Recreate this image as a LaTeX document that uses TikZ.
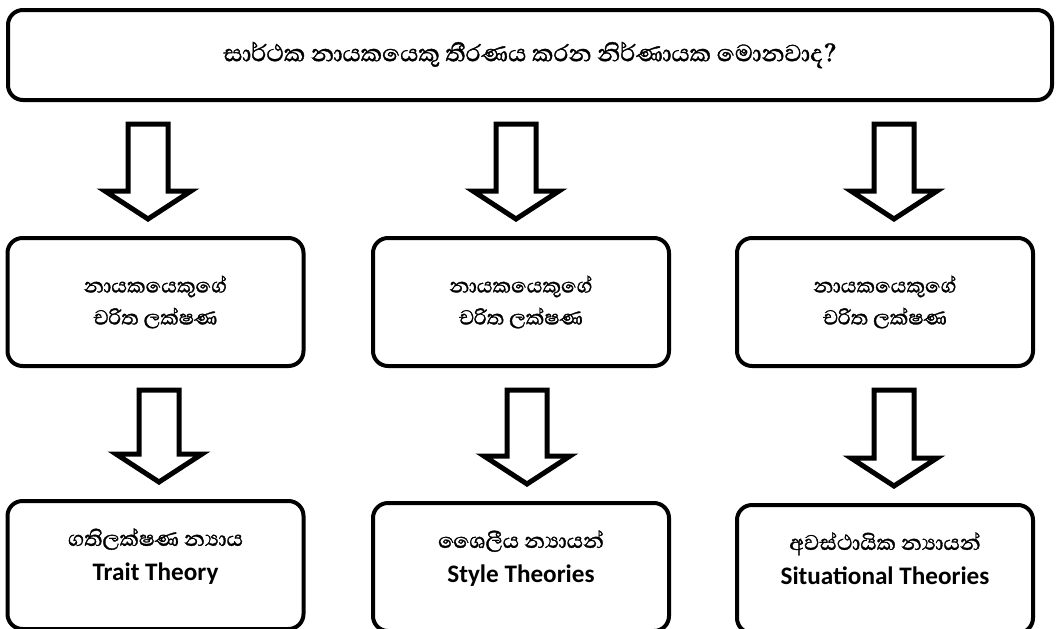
\documentclass[tikz,border=0pt]{standalone}
\usepackage{fontspec}
\setmainfont{Carlito}
\newfontfamily\sinhala[Script=Sinhala, FakeBold=1.2]{Abhaya Libre}
\usetikzlibrary{positioning, calc}

% hollow block arrow at x=#1 (px), from node #2 down to node #3
\newcommand{\bigarrow}[3]{%
    \draw[arrowline] let \p1=(#2.south), \p2=(#3.north) in
        ({#1*0.5pt-10pt},{\y1-11pt}) -- ({#1*0.5pt-10pt},{\y2+22.5pt}) -- ({#1*0.5pt-21.5pt},{\y2+22.5pt})
        -- ({#1*0.5pt},{\y2+8.5pt})
        -- ({#1*0.5pt+21.5pt},{\y2+22.5pt}) -- ({#1*0.5pt+10pt},{\y2+22.5pt}) -- ({#1*0.5pt+10pt},{\y1-11pt}) -- cycle;
}
% sinhala name over english name, set a little high in the box
\newcommand{\theory}[2]{\raisebox{1pt}[0pt][0pt]{\begin{tabular}{@{}c@{}}\fontsize{13.5}{16}\selectfont #1\\[1.5pt]{\rmfamily\bfseries\fontsize{12.6}{15}\selectfont #2}\end{tabular}}}

\begin{document}
\begin{tikzpicture}[x=0.5pt, y=-0.5pt, box/.style={draw=black, line width=2pt, rounded corners=7.5pt, minimum width=148pt, minimum height=64pt, align=center, inner sep=0pt, font=\sinhala\fontsize{13}{16}\selectfont}, topbox/.style={box, minimum width=522pt, minimum height=45pt, font=\sinhala\fontsize{15}{18}\selectfont}, arrowline/.style={draw=black, line width=2.5pt, fill=white, line join=miter}]

    \useasboundingbox (0,0) rectangle (1057,628);

    %Nodes
    \node[topbox](question) at (530,55){සාර්ථක නායකයෙකු තීරණය කරන නිර්ණායක මොනවාද?};
    \node[box](traits1) at (155.5,302){නායකයෙකුගේ\\චරිත ලක්ෂණ};
    \node[box](traits2) at (521,302){නායකයෙකුගේ\\චරිත ලක්ෂණ};
    \node[box](traits3) at (885,302){නායකයෙකුගේ\\චරිත ලක්ෂණ};
    \node[box](trait)[below=65.5pt of traits1]{\theory{ගතිලක්ෂණ න්^^^^200dයාය}{Trait Theory}};
    \node[box](style)[below=66.5pt of traits2]{\theory{ශෛලීය න්^^^^200dයායන්}{Style Theories}};
    \node[box](situation)[below=67.5pt of traits3]{\theory{අවස්ථායික න්^^^^200dයායන්}{Situational Theories}};

    %Lines
    \bigarrow{148}{question}{traits1}
    \bigarrow{516}{question}{traits2}
    \bigarrow{894}{question}{traits3}
    \bigarrow{159}{traits1}{trait}
    \bigarrow{527}{traits2}{style}
    \bigarrow{894}{traits3}{situation}

\end{tikzpicture}
\end{document}
